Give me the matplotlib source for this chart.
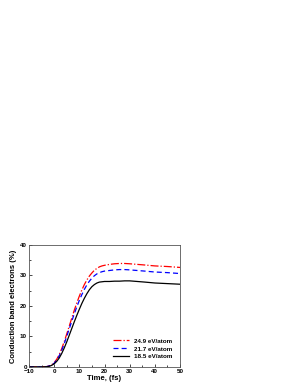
import matplotlib
matplotlib.use("Agg")
import matplotlib.pyplot as plt
from matplotlib.ticker import MultipleLocator

# values
time_fs = [-10, -5, -3, -2, -1, 0, 1, 2, 3, 4, 5, 6, 7, 8, 9, 10, 11, 12, 13, 14,
           15, 16, 17, 18, 19, 20, 22, 24, 26, 28, 30, 33, 36, 40, 45, 50]
cb_249 = [0, 0, 0.1, 0.3, 0.7, 1.4, 2.5, 4.0, 6.0, 8.3, 10.8, 13.4, 16.0, 18.6, 21.0,
          23.2, 25.2, 27.0, 28.5, 29.8, 30.8, 31.7, 32.3, 32.8, 33.1, 33.3, 33.6,
          33.8, 33.9, 33.9, 33.8, 33.6, 33.4, 33.1, 32.9, 32.6]
cb_217 = [0, 0, 0.1, 0.3, 0.6, 1.2, 2.2, 3.6, 5.4, 7.6, 10.0, 12.5, 15.0, 17.4, 19.7,
          21.8, 23.7, 25.4, 26.9, 28.1, 29.1, 29.9, 30.5, 30.9, 31.2, 31.4, 31.6,
          31.8, 31.9, 31.9, 31.8, 31.6, 31.4, 31.1, 30.9, 30.6]
cb_185 = [0, 0, 0.05, 0.2, 0.5, 1.0, 1.8, 2.9, 4.4, 6.2, 8.2, 10.4, 12.6, 14.8, 16.9,
          18.9, 20.8, 22.5, 24.0, 25.3, 26.3, 27.0, 27.5, 27.8, 27.9, 28.0, 28.0,
          28.1, 28.1, 28.2, 28.2, 28.0, 27.8, 27.5, 27.3, 27.1]

labels = ["24.9 eV/atom", "21.7 eV/atom", "18.5 eV/atom"]

plt.rcParams['font.family'] = ['Liberation Sans', 'DejaVu Sans']
plt.rcParams['font.weight'] = 'bold'

fig = plt.figure(figsize=(2.99, 3.85), dpi=100)
ax = fig.add_axes([0.097, 0.047, 0.505, 0.317])

ax.plot(time_fs, cb_249, color='red', linestyle='-.', linewidth=0.9, label=labels[0])
ax.plot(time_fs, cb_217, color='blue', linestyle=(0, (4, 2.5)), linewidth=0.9, label=labels[1])
ax.plot(time_fs, cb_185, color='black', linestyle='-', linewidth=0.9, label=labels[2])

ax.set_xlim(-10, 50)
ax.set_ylim(0, 40)
ax.xaxis.set_major_locator(MultipleLocator(10))
ax.xaxis.set_minor_locator(MultipleLocator(5))
ax.yaxis.set_major_locator(MultipleLocator(10))
ax.yaxis.set_minor_locator(MultipleLocator(5))
ax.tick_params(which='both', direction='in', labelsize=4.5, width=0.5, pad=1.5)
ax.tick_params(which='major', length=2.5)
ax.tick_params(which='minor', length=1.5)
for s in ax.spines.values():
    s.set_linewidth(0.6)
    s.set_color('#555555')

ax.set_xlabel('Time, (fs)', fontsize=5.5, fontweight='bold', labelpad=1)
ax.set_ylabel('Conduction band electrons (%)', fontsize=5.5, fontweight='bold', labelpad=2)

leg = ax.legend(loc='lower right', fontsize=4.5, frameon=False, handlelength=2.5,
                labelspacing=0.4, borderaxespad=0.8, handletextpad=0.8)

fig.savefig('out.png', dpi=100)
